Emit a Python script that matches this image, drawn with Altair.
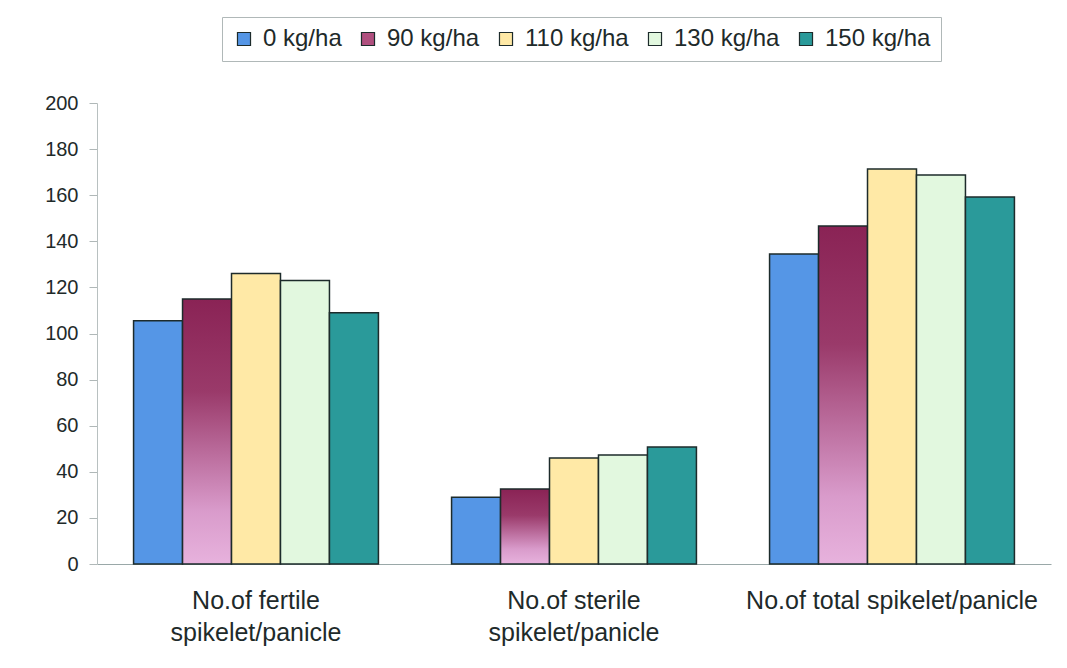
import altair as alt
import pandas as pd

categories = ["No.of fertile|spikelet/panicle", "No.of sterile|spikelet/panicle", "No.of total spikelet/panicle"]
series = ["0 kg/ha", "90 kg/ha", "110 kg/ha", "130 kg/ha", "150 kg/ha"]
v_0 = [105.5, 29.0, 134.5]
v_90 = [115.0, 32.5, 146.6]
v_110 = [126.0, 46.0, 171.4]
v_130 = [123.0, 47.3, 168.8]
v_150 = [109.0, 50.8, 159.2]
colors = ["#5596E6", "#B0507F", "#FFE9A6", "#E2F8DF", "#2A9A9A"]

rows = []
for s, vals in zip(series, [v_0, v_90, v_110, v_130, v_150]):
    for c, v in zip(categories, vals):
        rows.append({"cat": c, "series": s, "value": v})
df = pd.DataFrame(rows)

x = alt.X("cat:N", sort=categories, title=None,
          scale=alt.Scale(paddingInner=0.23, paddingOuter=0.115),
          axis=alt.Axis(labelAngle=0, labelExpr="split(datum.label, '|')",
                        labelFont="Liberation Sans", labelFontSize=25, labelColor="#1e2a2a",
                        labelPadding=24, labelLineHeight=32, ticks=False,
                        domainColor="#9aa8a8", domainWidth=1.2, labelLimit=500))
y = alt.Y("value:Q", title=None, scale=alt.Scale(domain=[0, 200], nice=False),
          axis=alt.Axis(values=list(range(0, 201, 20)), grid=False,
                        labelFont="Liberation Sans", labelFontSize=20, labelColor="#1e2a2a",
                        labelPadding=11, tickSize=8, tickColor="#b0b8b8",
                        domainColor="#b8c0c0", domainWidth=1))
xo = alt.XOffset("series:N", sort=series)

grad = alt.Gradient(gradient="linear", x1=0, x2=0, y1=0, y2=1,
                    stops=[alt.GradientStop(color="#8A2355", offset=0),
                           alt.GradientStop(color="#9A3A6A", offset=0.35),
                           alt.GradientStop(color="#D99BCB", offset=0.8),
                           alt.GradientStop(color="#E7B2DD", offset=1)])

fill_field = alt.Fill("series:N", sort=series, title=None,
                      scale=alt.Scale(domain=series, range=colors),
                      legend=alt.Legend(orient="none", direction="horizontal",
                                        legendX=125, legendY=-86,
                                        labelFont="Liberation Sans", labelFontSize=24,
                                        labelColor="#1e2a2a", symbolType="square",
                                        symbolSize=170, symbolStrokeColor="#1d2b2b",
                                        symbolStrokeWidth=1.2, columnPadding=14,
                                        labelOffset=7,
                                        padding=10, strokeColor="#b0b8b8",
                                        fillColor="white"))

chart = alt.Chart(df).mark_bar(stroke="#1d2b2b", strokeWidth=1.5, fillOpacity=1).encode(
    x=x, y=y, xOffset=xo,
    fill=alt.condition(alt.datum.series == "90 kg/ha", alt.value(grad), fill_field),
).properties(
    width=954, height=461,
    background="white",
    autosize=alt.AutoSizeParams(type="none"),
    padding={"left": 89, "top": 95, "right": 8, "bottom": 90},
).configure_view(strokeWidth=0, strokeOpacity=0)

chart.save("out.html", embed_options={"renderer": "svg", "actions": False})
